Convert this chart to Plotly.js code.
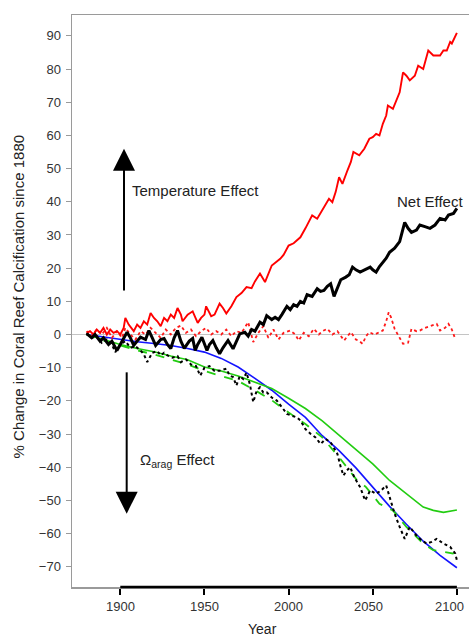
<!DOCTYPE html>
<html>
<head>
<meta charset="utf-8">
<script src="https://cdn.plot.ly/plotly-3.0.1.min.js"></script>
<style>html,body{margin:0;padding:0;background:#fff;overflow:hidden}#chart{width:469px;height:636px}</style>
</head>
<body>
<div id="chart"></div>
<script>
// Temperature effect (red solid)
const tempYears = [1880,1882,1884,1886,1888,1890,1892,1894,1896,1898,1900,1902,1903,1905,1908,1910,1912,1914,1916,1918,1920,1922,1924,1926,1928,1930,1932,1934,1936,1937,1940,1943,1946,1948,1950,1951,1954,1956,1959,1961,1963,1966,1969,1972,1975,1978,1980,1983,1986,1988,1990,1993,1995,1997,2000,2003,2005,2007,2010,2012,2014,2017,2020,2022,2024,2026,2028,2030,2032,2035,2037,2038.5,2040,2042,2045,2048,2050,2052,2054,2056,2058,2059,2062,2064,2066,2068,2070,2072,2075,2077,2080,2083,2086,2090,2092,2094,2096,2097,2100];
const tempVals = [0.5,1,0,1.5,0.5,2,0,1.5,0.5,1,0,2,5,3,1,3,2,4,3,6.5,5,4,2.5,5,4,6,5,8,6,4,6,7,3.5,5,6,8.5,5.5,6,9.3,8,6.3,8.5,11.3,12.5,14.3,14,16,18.4,15.8,18.5,20.8,22,22.8,24,26.8,27.5,28.5,29.3,32,34,35.9,34.9,37.5,39.5,40.9,39.9,43,47.4,45.4,49.5,52,55,54.5,54,56,59,59.5,60.5,60,63.5,66,69,68,70.6,73,79,78,76.6,78,81,80,85.6,84.1,84.1,85.6,85.6,88.2,87.7,90.9];

// Net effect (black thick)
const netYears = [1880,1883,1885,1888,1890,1893,1895,1898,1900,1902,1904,1906,1908,1910,1912,1915,1917,1919,1921,1924,1926,1928,1930,1932,1934,1936,1938,1941,1943,1944.5,1946,1948.5,1950,1951.5,1953,1955,1957,1959,1961,1964,1967,1969,1971,1974,1976,1978,1980,1983,1985,1987,1990,1992,1994,1996,1999,2001,2003,2005,2007,2009,2011,2014,2017,2019,2021,2023,2025,2027,2029,2031,2034,2036,2038,2040,2042.5,2045,2048.5,2050,2052,2054,2056,2058,2060,2063,2066,2069,2071,2073,2076,2078,2081,2084,2087,2090,2093,2095,2098,2100];
const netVals = [0.3,-1,0,-2,-1,-3,-2,-4.8,-3,-1,0.7,-1,-3.3,-2,-0.8,-1.5,1.2,-1,-3.3,-1.5,-1.2,-3,-4.2,-1,1.2,-2,-4.2,-2,-1.2,-4.8,-3,-0.8,-3,-4.8,-3,-1.8,-4,-5.8,-4,-1.8,-4.3,-2,0.2,0.7,-0.5,1.5,1,3.7,3,5.7,4.5,5.2,4.5,6,8.5,7.5,9,8.5,10,9.5,12,11.5,13.8,13,13.3,14.5,15.3,11.5,14,16.5,17.3,18,20.3,19.5,18.8,19.5,20.3,19.5,18.8,20.5,21.8,23,24.8,26,28,33.8,32,30.8,31.5,33,32.5,32,33,35,34.5,36,36.5,38];

// Temperature variability (red dotted)
const varYears = [1880,1883,1886,1889,1892,1895,1898,1901,1903,1906,1909,1912,1915,1918,1921,1924,1927,1930,1933,1936,1939,1942,1945,1948,1951,1954,1957,1960,1963,1966,1969,1972,1976,1979,1982,1985,1988,1991,1994,1997,2001,2004,2006,2009,2012,2015,2018,2020,2023,2026,2029,2031,2033,2035,2037,2040,2042,2044,2046,2048,2051,2054,2056,2058,2059.5,2061,2063,2066,2068,2071,2073,2076,2078,2081,2084,2088,2090,2093,2095,2097,2099];
const varVals = [1,-0.5,1.5,0,2,-1,1,-1,2,0,-1.5,1,0,2,0.5,-1,1.5,0,2,2.7,0.5,1.5,-0.5,1,2,0,1,0,1.5,-0.5,1,0.5,3.7,-2.3,0.5,2.5,-1,1.5,-1.5,0.5,1.2,0,-1.8,0.5,-0.5,1.7,0,1,1.7,0,1,-0.5,-1.8,-0.5,0.7,-1.5,-2,-2.8,-0.5,0.7,0,0.7,1.2,4,6.7,5,1.7,-1,-2.8,-2.5,1.7,1,1.2,2,2.5,3.2,1.2,2,3.2,1.5,-1.3];

// Aragonite saturation effects
const smoothYears = [1880,1890,1900,1910,1920,1930,1940,1950,1960,1970,1980,1990,2000,2010,2020,2030,2040,2050,2060,2070,2080,2090,2100];
const blueVals = [0,-0.8,-1.5,-2.2,-2.7,-3.3,-4.2,-5.3,-7.2,-9.8,-13.2,-16.8,-21,-25,-30.5,-35,-40.2,-46,-51.8,-57.2,-62.3,-66.6,-70.3];

const greenYears = [1880,1890,1900,1910,1920,1930,1940,1950,1960,1970,1980,1990,2000,2010,2020,2030,2040,2050,2060,2070,2080,2086,2092,2100];
const greenVals = [0,-1.5,-3,-4.2,-5.2,-6.5,-7.6,-9.8,-11,-12.5,-14.3,-16.3,-19.2,-22.3,-26,-30.3,-34.5,-39,-44,-48,-52,-53,-53.6,-52.9];

const greenDashYears = [1880,1890,1900,1910,1920,1930,1940,1950,1960,1970,1980,1990,2000,2010,2020,2030,2040,2046,2054,2062,2070,2080,2086,2092,2098,2100];
const greenDashVals = [0,-1.8,-3.3,-4.8,-6,-7.5,-9,-11,-12.5,-14,-16.8,-19.8,-23.5,-27,-31,-37,-43.5,-46,-51,-53,-58,-63,-65,-65.6,-66,-67.5];

const blackDotYears = [1880,1883,1886,1889,1892,1895,1897,1900,1903,1906,1909,1912,1914,1916,1919,1922,1924,1926,1928,1931,1934,1936,1939,1942,1945,1947.5,1950,1953,1956,1959,1963,1965,1967,1969,1971,1973,1975,1977,1979,1981,1983,1985,1987,1990,1993,1996,1999,2002,2005,2007,2010,2013,2016,2019,2022,2025,2029,2031,2032.6,2034.6,2036.6,2039,2042.5,2045.5,2048.5,2052,2055,2058,2060,2063,2066,2069,2072,2076,2079,2082,2085,2088,2092,2096,2099,2100];
const blackDotVals = [0.5,-1,-0.5,-2.5,-1.5,-3,-5.3,-3,-2,-4,-3.5,-4.8,-6,-8.3,-5.5,-5,-6.3,-5.5,-6.3,-7,-6.5,-8.3,-7.5,-9,-9.5,-12.4,-10,-9.5,-11,-10.9,-10.3,-12.4,-12.8,-15.4,-12.5,-13.4,-11.5,-15,-20.4,-17,-15.9,-17.5,-17.4,-19,-19.9,-22,-23.9,-24.5,-25,-25.9,-28.5,-29.9,-31,-33,-31.5,-32.5,-36,-40,-42.5,-41,-40,-43,-46,-50,-47,-48,-47,-45.5,-49,-54,-58,-61.6,-58,-60.6,-62,-63,-62.5,-61.6,-63,-64,-66,-68];

const xTicks = [1900,1950,2000,2050,2100];
const xTickText = ['1900','1950','2000','2050','2100'];

// Annotation arrows (start / end values on the y scale)
const upArrow = {x:1902.2, from:13.3, to:56};
const downArrow = {x:1903.8, from:-11.4, to:-54};

const fam = '"Liberation Sans", Arial, Helvetica, sans-serif';

const traces = [
  {x: smoothYears, y: blueVals, mode:'lines', line:{color:'#1414ff', width:1.6}},
  {x: greenYears, y: greenVals, mode:'lines', line:{color:'#22cc11', width:1.6}},
  {x: greenDashYears, y: greenDashVals, mode:'lines', line:{color:'#22cc11', width:1.8, dash:'dash'}},
  {x: blackDotYears, y: blackDotVals, mode:'lines', line:{color:'#000', width:2, dash:'dot'}},
  {x: varYears, y: varVals, mode:'lines', line:{color:'#ff1a1a', width:1.8, dash:'dot'}},
  {x: tempYears, y: tempVals, mode:'lines', line:{color:'#ff0000', width:1.9}},
  {x: netYears, y: netVals, mode:'lines', line:{color:'#000', width:3}},
  {x:[upArrow.x, upArrow.x], y:[upArrow.from, upArrow.to - 4], mode:'lines', line:{color:'#000', width:2}},
  {x:[downArrow.x, downArrow.x], y:[downArrow.from, downArrow.to + 4], mode:'lines', line:{color:'#000', width:2}},
  {x:[upArrow.x], y:[upArrow.to], mode:'markers', marker:{symbol:'arrow-up', size:22, color:'#000', line:{width:0}}},
  {x:[downArrow.x], y:[downArrow.to], mode:'markers', marker:{symbol:'arrow-down', size:22, color:'#000', line:{width:0}}}
];

const tickAnn = xTicks.map((v, i) => ({
  xref:'x', yref:'paper', x:v, y:-0.017, text:xTickText[i], showarrow:false,
  xanchor:'center', yanchor:'top', xshift: (i === xTicks.length - 1 ? -7 : (i === xTicks.length - 2 ? -4 : 0)),
  font:{size:13, color:'#333', family:fam}
}));

const layout = {
  width:469, height:636,
  margin:{l:72, r:0, t:15, b:49},
  paper_bgcolor:'#fff', plot_bgcolor:'#fff',
  showlegend:false,
  font:{family:fam, color:'#222'},
  xaxis:{
    range:[1871.3, 2107.2], showgrid:false, zeroline:false,
    showline:true, linecolor:'#9a9a9a', linewidth:1.5, mirror:true,
    tickvals: xTicks, ticks:'outside', ticklen:6, tickwidth:2, tickcolor:'#000',
    showticklabels:false
  },
  yaxis:{
    range:[-76.1, 96.3], showgrid:false,
    zeroline:true, zerolinecolor:'#c4c4c4', zerolinewidth:1.5,
    showline:true, linecolor:'#9a9a9a', linewidth:1.5,
    tick0:0, dtick:10, ticks:'outside', ticklen:5, tickwidth:1, tickcolor:'#9a9a9a',
    tickfont:{size:13, color:'#333', family:fam}, ticklabelstandoff:2
  },
  shapes:[
    {type:'line', xref:'x', yref:'paper', x0:1900, x1:2100, y0:0, y1:0, line:{color:'#000', width:2.5}}
  ],
  annotations: tickAnn.concat([
    {xref:'x', yref:'y', x:1905.7, y:43.4, text:'Temperature Effect', showarrow:false, xanchor:'left', yanchor:'middle', font:{size:15, color:'#222'}},
    {xref:'x', yref:'y', x:1910.5, y:-38, text:'Ω<sub>arag</sub> Effect', showarrow:false, xanchor:'left', yanchor:'middle', font:{size:15, color:'#222'}},
    {xref:'x', yref:'y', x:2104.8, y:40, text:'Net Effect', showarrow:false, xanchor:'right', yanchor:'middle', font:{size:15, color:'#222'}},
    {xref:'paper', yref:'paper', x:0.479, y:-0.0734, text:'Year', showarrow:false, xanchor:'center', yanchor:'middle', font:{size:14, color:'#222'}},
    {xref:'paper', yref:'paper', x:-0.136, y:0.508, text:'% Change in Coral Reef Calcification since 1880', textangle:-90, showarrow:false, xanchor:'center', yanchor:'middle', font:{size:15, color:'#222'}}
  ])
};

Plotly.newPlot('chart', traces, layout, {displayModeBar:false, staticPlot:true});
</script>
</body>
</html>
